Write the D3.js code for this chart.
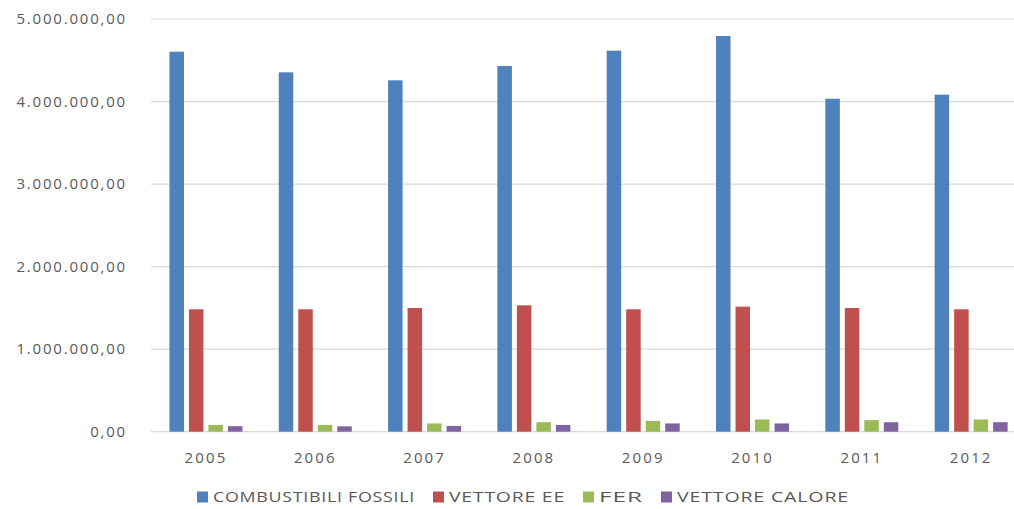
<!DOCTYPE html>
<html><head><meta charset="utf-8">
<script src="https://cdn.jsdelivr.net/npm/d3@7"></script>
<style>body{margin:0;background:#fff}svg{display:block}</style>
</head><body><svg id="c" width="1014" height="509"></svg>
<script>
const years = ["2005","2006","2007","2008","2009","2010","2011","2012"];
const seriesNames = ["COMBUSTIBILI FOSSILI","VETTORE EE","FER","VETTORE CALORE"];
const combustibiliFossili = [4604000,4354000,4257000,4431000,4616000,4794000,4034000,4083000];
const vettoreEE = [1483000,1483000,1499000,1531000,1483000,1515000,1499000,1483000];
const fer = [82000,82000,100000,115000,131000,148000,140000,148000];
const vettoreCalore = [67000,65000,70000,82000,100000,100000,115000,115000];
const yTicks = [0,1000000,2000000,3000000,4000000,5000000];
const colors = ["#4F81BD","#C0504D","#9BBB59","#8064A2"];

const seriesValues = [combustibiliFossili, vettoreEE, fer, vettoreCalore];
const svg = d3.select("#c");
const font = "'Open Sans', sans-serif";
const textColor = "#595959";

const x0 = d3.scaleBand().domain(years).range([151.3, 1025.8]).paddingInner(0).paddingOuter(0);
const x1 = d3.scaleBand().domain(seriesNames).range([18.15, 91.15]).paddingInner(0.256).paddingOuter(0);
const y = d3.scaleLinear().domain([0, 5000000]).range([431.7, 19]);

const it = d3.formatLocale({decimal: ",", thousands: ".", grouping: [3], currency: ["", ""]});
const fmt = it.format(",.2f");

// gridlines
svg.append("g").selectAll("line").data(yTicks).join("line")
  .attr("x1", 151).attr("x2", 1014)
  .attr("y1", d => y(d)).attr("y2", d => y(d))
  .attr("stroke", "#d9d9d9").attr("stroke-width", 1.2);

// y labels
const yAxis = d3.axisLeft(y).tickValues(yTicks).tickFormat(fmt).tickSize(0).tickPadding(0);
const ya = svg.append("g").attr("transform", "translate(127,0)").call(yAxis);
ya.select(".domain").remove();
ya.selectAll("text").attr("fill", textColor).style("font-family", font).style("font-size", "15px").style("letter-spacing", "1.8px");

// x labels
const xAxis = d3.axisBottom(x0).tickSize(0).tickPadding(0);
const xa = svg.append("g").attr("transform", "translate(0,452)").call(xAxis);
xa.select(".domain").remove();
xa.selectAll("text").attr("fill", textColor).style("font-family", font).style("font-size", "15px").style("letter-spacing", "2.1px");

// bars
const groups = svg.append("g").selectAll("g").data(years).join("g")
  .attr("transform", d => `translate(${x0(d)},0)`);
groups.selectAll("rect").data((d, i) => seriesNames.map((s, k) => ({s, v: seriesValues[k][i], k})))
  .join("rect")
  .attr("x", d => x1(d.s)).attr("width", x1.bandwidth())
  .attr("y", d => y(d.v)).attr("height", d => y(0) - y(d.v))
  .attr("fill", d => colors[d.k]);

// legend
const legendTextWidths = [202, 116, 44, 172];
const legend = svg.append("g").attr("transform", "translate(0,497)");
let lx = 197;
seriesNames.forEach((s, k) => {
  const g = legend.append("g").attr("transform", `translate(${lx},0)`);
  g.append("rect").attr("x", 0).attr("y", -5.5).attr("width", 11).attr("height", 11).attr("fill", colors[k]);
  g.append("text").attr("x", 16).attr("y", 0).attr("dy", "0.35em")
    .attr("fill", textColor).style("font-family", font).style("font-size", "15px").style("letter-spacing", "0.6px")
    .attr("textLength", legendTextWidths[k]).attr("lengthAdjust", "spacingAndGlyphs").text(s);
  lx += 16 + legendTextWidths[k] + 18;
});
</script></body></html>
